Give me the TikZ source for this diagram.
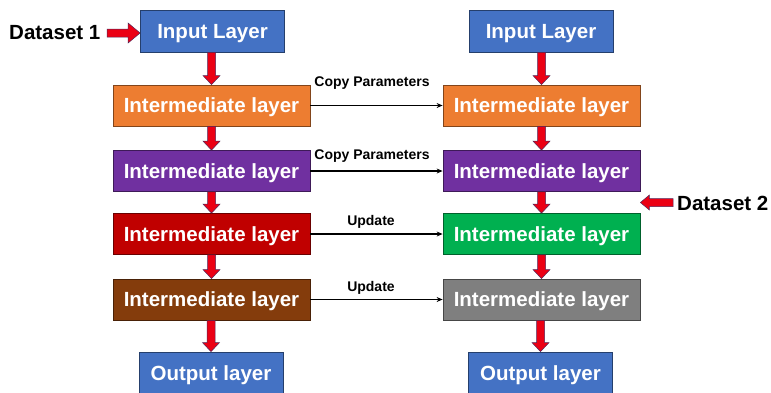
\documentclass[tikz,border=0pt]{standalone}
\usepackage{fontspec}
\setmainfont{Liberation Sans}
\usetikzlibrary{calc,arrows.meta}
\definecolor{cblue}{RGB}{68,114,196}
\definecolor{corange}{RGB}{237,125,49}
\definecolor{cpurple}{RGB}{112,48,160}
\definecolor{cred}{RGB}{192,0,0}
\definecolor{cbrown}{RGB}{132,60,12}
\definecolor{cgreen}{RGB}{0,176,80}
\definecolor{cgray}{RGB}{127,127,127}
\definecolor{arrowred}{RGB}{235,0,20}
\definecolor{arrowedge}{RGB}{80,40,90}
\tikzset{
  layer/.style={draw=#1!55!black, line width=0.8pt, fill=#1, text=white,
    font=\fontsize{20.5}{24}\selectfont\bfseries, inner sep=0pt,
    text height=14.7pt, text depth=0pt,
    minimum width=197pt, minimum height=41pt},
  endlayer/.style={layer=#1, minimum width=144pt, minimum height=42pt},
  blk/.style={fill=arrowred, draw=arrowedge, line width=0.5pt, line join=miter},
  conn/.style={draw=black, line width=1.2pt, -{Stealth[length=6pt,width=5pt]}},
  lbl/.style={font=\fontsize{14}{16}\selectfont\bfseries, text=black, inner sep=0pt},
  ds/.style={font=\fontsize{20.5}{24}\selectfont\bfseries, text=black, inner sep=0pt,
    text height=14.7pt, text depth=0pt}
}
\newcommand\vblock[2]{%
  \draw[blk] ($(#2.north |- #1.south)+(-4,0)$) -- ($(#2.north)+(-4,-9)$) -- ($(#2.north)+(-8.5,-9)$)
    -- (#2.north) -- ($(#2.north)+(8.5,-9)$) -- ($(#2.north)+(4,-9)$)
    -- ($(#2.north |- #1.south)+(4,0)$) -- cycle;}
\begin{document}
\begin{tikzpicture}[x=1pt,y=-1pt]
\useasboundingbox[fill=white] (0,0) rectangle (771,392);
% left column
\node[endlayer=cblue] (in1) at (212.5,31) {Input Layer};
\node[layer=corange] (a1) at (211.5,105.5) {Intermediate layer};
\node[layer=cpurple] (b1) at (211.5,171) {Intermediate layer};
\node[layer=cred] (c1) at (211.5,234) {Intermediate layer};
\node[layer=cbrown] (d1) at (211.5,299.5) {Intermediate layer};
\node[endlayer=cblue] (out1) at (211,373) {Output layer};
% right column
\node[endlayer=cblue] (in2) at (541,31) {Input Layer};
\node[layer=corange] (a2) at (541.5,105.5) {Intermediate layer};
\node[layer=cpurple] (b2) at (541.5,171) {Intermediate layer};
\node[layer=cgreen] (c2) at (541.5,234) {Intermediate layer};
\node[layer=cgray] (d2) at (541.5,299.5) {Intermediate layer};
\node[endlayer=cblue] (out2) at (540.5,373) {Output layer};
% vertical block arrows
\vblock{in1}{a1}
\vblock{a1}{b1}
\vblock{b1}{c1}
\vblock{c1}{d1}
\vblock{d1}{out1}
\vblock{in2}{a2}
\vblock{a2}{b2}
\vblock{b2}{c2}
\vblock{c2}{d2}
\vblock{d2}{out2}
% datasets
\node[ds, anchor=west] (ds1) at (9,32) {Dataset 1};
\coordinate (ds1tail) at (107,33);
\coordinate (ds1tip) at (in1.west |- ds1tail);
\draw[blk] ($(ds1tail)+(0,-4)$) -- ($(ds1tip)+(-12,-4)$) -- ($(ds1tip)+(-12,-10)$)
  -- (ds1tip) -- ($(ds1tip)+(-12,10)$) -- ($(ds1tip)+(-12,4)$) -- ($(ds1tail)+(0,4)$) -- cycle;
\node[ds, anchor=west] (ds2) at (677,203) {Dataset 2};
\coordinate (ds2tail) at (673,202.5);
\coordinate (ds2tip) at (b2.east |- ds2tail);
\draw[blk] ($(ds2tail)+(0,-4)$) -- ($(ds2tip)+(9,-4)$) -- ($(ds2tip)+(9,-7.5)$)
  -- (ds2tip) -- ($(ds2tip)+(9,7.5)$) -- ($(ds2tip)+(9,4)$) -- ($(ds2tail)+(0,4)$) -- cycle;
% connectors
\draw[conn] (a1.east) -- (a2.west);
\draw[conn] (b1.east) -- (b2.west);
\draw[conn] (c1.east) -- (c2.west);
\draw[conn] (d1.east) -- (d2.west);
\node[lbl] (l1) at (372,83) {Copy Parameters};
\node[lbl] (l2) at (372,156) {Copy Parameters};
\node[lbl] (l3) at (371,222) {Update};
\node[lbl] (l4) at (371,288) {Update};
\end{tikzpicture}
\end{document}
